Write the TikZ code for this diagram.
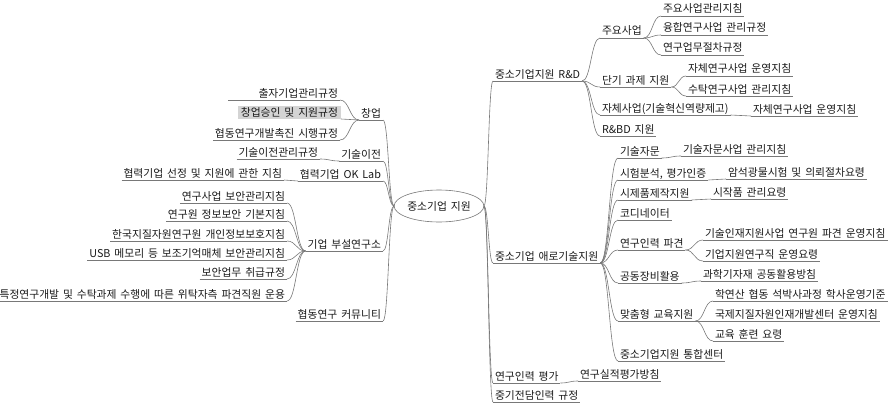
\documentclass[tikz,border=0pt]{standalone}
\usepackage{fontspec}
\setmainfont[WordSpace=1.6]{Noto Sans CJK KR}
\usetikzlibrary{calc,shapes.geometric}
\definecolor{lnc}{RGB}{120,120,120}
\definecolor{txc}{RGB}{25,25,25}
\definecolor{boxc}{RGB}{212,212,212}
\tikzset{
  conn/.style={draw=lnc, line width=0.6pt},
  lab/.style={font=\fontsize{10.8}{12}\selectfont, text=txc, inner xsep=2pt, inner ysep=2pt,
              text height=8pt, text depth=1pt, outer sep=0pt},
  rnode/.style={lab, anchor=south west},
  lnode/.style={lab, anchor=south east},
  hilite/.style={lnode, fill=boxc, inner xsep=3pt},
  centre/.style={lab, ellipse, draw=lnc, fill=white, line width=0.6pt,
                 minimum width=84pt, minimum height=32pt, inner sep=0pt, text height=, text depth=}
}
\newcommand\mylink[2]{\draw[conn] let \p1=(#1), \p2=(#2), \n1={0.5*\x1+0.5*\x2} in
  (\p1) .. controls (\n1,\y1) and (\n1,\y2) .. (\p2);}
\begin{document}
\begin{tikzpicture}[x=1pt,y=-1pt]
\useasboundingbox (0,0) rectangle (888,404);
% centre
\node[centre] (c) at (439,206) {중소기업 지원};
% right level 1
\node[rnode] (rd) at (493,81) {중소기업지원 R\&D};
\node[rnode] (ae) at (493,263) {중소기업 애로기술지원};
\node[rnode] (pe) at (493,383) {연구인력 평가};
\node[rnode] (jg) at (493,402) {중기전담인력 규정};
% R&D
\node[rnode] (ju) at (600,38) {주요사업};
\node[rnode] (dg) at (600,87) {단기 과제 지원};
\node[rnode] (jc) at (600,115) {자체사업(기술혁신역량제고)};
\node[rnode] (rb) at (600,136) {R\&BD 지원};
\node[rnode] (ju1) at (661,16) {주요사업관리지침};
\node[rnode] (ju2) at (661,35) {융합연구사업 관리규정};
\node[rnode] (ju3) at (661,55) {연구업무절차규정};
\node[rnode] (dg1) at (686,76) {자체연구사업 운영지침};
\node[rnode] (dg2) at (686,96) {수탁연구사업 관리지침};
\node[rnode] (jc1) at (751,116) {자체연구사업 운영지침};
% 애로기술
\node[rnode] (ae1) at (618,158) {기술자문};
\node[rnode] (ae2) at (618,180) {시험분석, 평가인증};
\node[rnode] (ae3) at (618,200) {시제품제작지원};
\node[rnode] (ae4) at (618,220) {코디네이터};
\node[rnode] (ae5) at (618,250) {연구인력 파견};
\node[rnode] (ae6) at (618,283) {공동장비활용};
\node[rnode] (ae7) at (618,321) {맞춤형 교육지원};
\node[rnode] (ae8) at (618,361) {중소기업지원 통합센터};
\node[rnode] (ae1a) at (681,156) {기술자문사업 관리지침};
\node[rnode] (ae2a) at (726,179) {암석광물시험 및 의뢰절차요령};
\node[rnode] (ae3a) at (711,199) {시작품 관리요령};
\node[rnode] (ae5a) at (703,240) {기술인재지원사업 연구원 파견 운영지침};
\node[rnode] (ae5b) at (703,261) {기업지원연구직 운영요령};
\node[rnode] (ae6a) at (701,281) {과학기자재 공동활용방침};
\node[rnode] (ae7a) at (713,301) {학연산 협동 석박사과정 학사운영기준};
\node[rnode] (ae7b) at (713,321) {국제지질자원인재개발센터 운영지침};
\node[rnode] (ae7c) at (713,341) {교육 훈련 요령};
\node[rnode] (pe1) at (578,381) {연구실적평가방침};
% left level 1
\node[lnode] (cu) at (383,120) {창업};
\node[lnode] (gi) at (383,161) {기술이전};
\node[lnode] (ok) at (383,181) {협력기업 OK Lab};
\node[lnode] (bs) at (383,251) {기업 부설연구소};
\node[lnode] (hc) at (383,321) {협동연구 커뮤니티};
% left level 2
\node[lnode, text width=108pt, align=right] (cu1) at (340,100) {출자기업관리규정};
\node[hilite] (cu2) at (341,119) {창업승인 및 지원규정};
\node[lnode] (cu3) at (340,140) {협동연구개발촉진 시행규정};
\node[lnode] (gi1) at (320,159) {기술이전관리규정};
\node[lnode] (ok1) at (284,180) {협력기업 선정 및 지원에 관한 지침};
\node[lnode] (bs1) at (287,203) {연구사업 보안관리지침};
\node[lnode] (bs2) at (287,221) {연구원 정보보안 기본지침};
\node[lnode] (bs3) at (287,241) {한국지질자원연구원 개인정보보호지침};
\node[lnode] (bs4) at (287,260) {USB 메모리 등 보조기억매체 보안관리지침};
\node[lnode] (bs5) at (287,279) {보안업무 취급규정};
\node[lnode] (bs6) at (287,301) {특정연구개발 및 수탁과제 수행에 따른 위탁자측 파견직원 운용};
% underlines
\foreach \nm in {rd,ae,pe,jg,ju,dg,jc,rb,ju1,ju2,ju3,dg1,dg2,jc1,ae1,ae2,ae3,ae4,ae5,ae6,ae7,ae8,
  ae1a,ae2a,ae3a,ae5a,ae5b,ae6a,ae7a,ae7b,ae7c,pe1,cu,gi,ok,bs,hc,cu1,cu3,gi1,ok1,bs1,bs2,bs3,bs4,bs5,bs6}
  {\draw[conn] (\nm.south west) -- (\nm.south east);}
% right links
\foreach \nm in {rd,ae,pe,jg} {\mylink{c.east}{\nm.south west}}
\foreach \nm in {ju,dg,jc,rb} {\mylink{rd.south east}{\nm.south west}}
\foreach \nm in {ju1,ju2,ju3} {\mylink{ju.south east}{\nm.south west}}
\foreach \nm in {dg1,dg2} {\mylink{dg.south east}{\nm.south west}}
\mylink{jc.south east}{jc1.south west}
\foreach \nm in {ae1,ae2,ae3,ae4,ae5,ae6,ae7,ae8} {\mylink{ae.south east}{\nm.south west}}
\mylink{ae1.south east}{ae1a.south west}
\mylink{ae2.south east}{ae2a.south west}
\mylink{ae3.south east}{ae3a.south west}
\foreach \nm in {ae5a,ae5b} {\mylink{ae5.south east}{\nm.south west}}
\mylink{ae6.south east}{ae6a.south west}
\foreach \nm in {ae7a,ae7b,ae7c} {\mylink{ae7.south east}{\nm.south west}}
\mylink{pe.south east}{pe1.south west}
% left links
\foreach \nm in {cu,gi,ok,bs,hc} {\mylink{c.west}{\nm.south east}}
\foreach \nm in {cu1,cu2,cu3} {\mylink{cu.south west}{\nm.south east}}
\mylink{gi.south west}{gi1.south east}
\mylink{ok.south west}{ok1.south east}
\foreach \nm in {bs1,bs2,bs3,bs4,bs5,bs6} {\mylink{bs.south west}{\nm.south east}}
\end{tikzpicture}
\end{document}
